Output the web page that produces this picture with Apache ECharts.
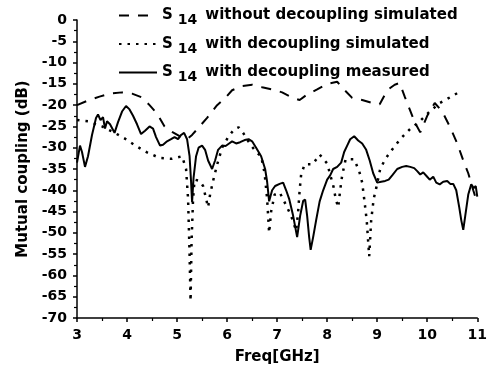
<!DOCTYPE html>
<html>
<head>
<meta charset="UTF-8">
<title>mutual coupling</title>
<script src="https://cdn.jsdelivr.net/npm/echarts@6/dist/echarts.min.js"></script>
<style>
    body { margin: 0; padding: 0; background: #fff; }
    #main { width: 490px; height: 372px; }
</style>
</head>
<body>
<div id="main"></div>
<script>
    // S14 without decoupling, simulated (dashed)
    const noDecFreq = [3.0, 3.2, 3.45, 3.7, 3.9, 4.1, 4.3, 4.45, 4.6, 4.75, 4.9, 5.05, 5.2, 5.3, 5.45, 5.6, 5.8, 5.95, 6.1, 6.3, 6.5, 6.7, 6.9, 7.1, 7.3, 7.45, 7.6, 7.8, 8.0, 8.2, 8.35, 8.5, 8.7, 8.9, 9.05, 9.2, 9.35, 9.45, 9.55, 9.65, 9.75, 9.86, 10.0, 10.15, 10.3, 10.45, 10.6, 10.72, 10.82, 10.92, 11.0];
    const noDecSim = [-20, -19, -18, -17.2, -17, -17.3, -18.2, -20, -22, -25, -26.3, -27.3, -28, -27, -25, -23, -20, -18.5, -16.5, -15.5, -15.2, -15.8, -16.3, -17, -18.2, -18.8, -17.5, -16.3, -15, -14.5, -16.5, -18.3, -18.8, -19.5, -19.8, -16.5, -15.2, -14.8, -18, -21, -24, -26.4, -22.5, -19.5, -21.5, -25, -29, -33, -36, -40, -43];

    // S14 with decoupling, simulated (dotted)
    const decSimFreq = [3.0, 3.22, 3.5, 3.75, 3.95, 4.18, 4.4, 4.65, 4.9, 5.1, 5.18, 5.22, 5.25, 5.27, 5.29, 5.32, 5.35, 5.45, 5.52, 5.58, 5.62, 5.66, 5.72, 5.8, 5.9, 6.03, 6.15, 6.23, 6.32, 6.45, 6.58, 6.68, 6.75, 6.8, 6.84, 6.88, 6.95, 7.05, 7.17, 7.28, 7.38, 7.42, 7.45, 7.48, 7.55, 7.71, 7.85, 8.0, 8.13, 8.17, 8.22, 8.26, 8.3, 8.37, 8.54, 8.64, 8.7, 8.74, 8.79, 8.84, 8.88, 8.93, 8.98, 9.06, 9.16, 9.3, 9.46, 9.65, 9.85, 10.05, 10.25, 10.45, 10.7];
    const decSim = [-23.5, -23.8, -25, -26.5, -27.8, -29.6, -31.1, -32.4, -32.6, -32, -35, -42, -55, -66, -52, -42, -37.5, -37.8, -39, -42, -44, -41, -37.8, -34, -30, -27.3, -25.6, -25.2, -26.5, -29, -31, -32, -36, -42, -50, -45, -41, -40.5, -43.3, -46, -49.5, -45, -40, -36.3, -33.9, -33.9, -31.6, -33.7, -39.3, -42, -44, -40, -36.5, -32.7, -32.7, -35.5, -38.2, -42, -47, -55.5, -47, -42, -39.5, -35, -32.7, -30.4, -28, -25.7, -23.8, -21.5, -19.5, -18.2, -16.5];

    // S14 with decoupling, measured (solid)
    const measFreq = [3.0, 3.06, 3.1, 3.16, 3.22, 3.3, 3.38, 3.42, 3.47, 3.52, 3.56, 3.6, 3.66, 3.75, 3.82, 3.9, 3.98, 4.05, 4.12, 4.2, 4.28, 4.36, 4.45, 4.52, 4.58, 4.66, 4.72, 4.8, 4.88, 4.95, 5.02, 5.08, 5.14, 5.2, 5.25, 5.28, 5.3, 5.33, 5.38, 5.43, 5.5, 5.56, 5.62, 5.7, 5.76, 5.82, 5.9, 5.97, 6.04, 6.1, 6.18, 6.26, 6.35, 6.43, 6.5, 6.58, 6.68, 6.76, 6.8, 6.84, 6.9, 6.96, 7.05, 7.12, 7.18, 7.24, 7.32, 7.4, 7.46, 7.52, 7.56, 7.6, 7.64, 7.67, 7.72, 7.78, 7.85, 7.92, 8.0, 8.06, 8.12, 8.2, 8.28, 8.34, 8.4, 8.46, 8.54, 8.62, 8.7, 8.78, 8.85, 8.92, 9.0, 9.08, 9.16, 9.23, 9.3, 9.4, 9.5, 9.58, 9.66, 9.74, 9.8, 9.86, 9.92, 9.99, 10.05, 10.12, 10.18, 10.25, 10.32, 10.4, 10.46, 10.52, 10.58, 10.64, 10.68, 10.72, 10.76, 10.82, 10.88, 10.93, 10.97, 11.0];
    const meas = [-33.5, -29.5, -31, -34.5, -32, -27, -23, -22.2, -23.5, -22.8, -25.5, -23.8, -24.5, -26.5, -24, -21.5, -20.2, -21, -22.5, -24.5, -26.8, -26, -25, -25.5, -27.5, -29.5, -29.3, -28.5, -28, -27.5, -28, -27, -26.5, -28, -32, -38, -42.8, -37, -32, -30, -29.5, -30.5, -33, -35, -33, -30.5, -29.5, -29.6, -29, -28.5, -29, -28.7, -28.2, -28, -28.5, -30, -32, -35, -38, -42.6, -40, -39, -38.5, -38.2, -40, -42, -46, -51, -46, -42.5, -42.2, -46, -51, -54, -51, -47, -42.6, -40, -37.5, -36.5, -35, -34.5, -33.5, -31, -29.5, -28, -27.3, -28.3, -29, -30.5, -33, -36, -38.2, -38, -37.8, -37.5, -36.5, -35, -34.5, -34.3, -34.5, -34.8, -35.5, -36.3, -35.8, -36.7, -37.5, -36.8, -38.2, -38.6, -38, -37.8, -38.5, -38.5, -40, -44, -47, -49.3, -46, -41, -38.6, -39.5, -39, -41.5];

    const seriesNames = ['S14 without decoupling simulated', 'S14 with decoupling simulated', 'S14 with decoupling measured'];

    const font = 'DejaVu Sans';
    const pairs = (xs, ys) => xs.map((x, i) => [x, ys[i]]);

    const chart = echarts.init(document.getElementById('main'), null, {renderer: 'canvas'});

    function lineSeries(name, data, type, width) {
        return {
            name: name,
            type: 'line',
            data: data,
            symbol: 'none',
            showSymbol: false,
            smooth: false,
            animation: false,
            lineStyle: {color: '#000', width: width, type: type, cap: 'butt'},
            itemStyle: {color: '#000'},
            z: 3
        };
    }

    const axisCommon = {
        axisLine: {show: true, onZero: false, lineStyle: {color: '#000', width: 1.5}},
        axisTick: {show: true, inside: false, length: 4, lineStyle: {color: '#000', width: 1.5}},
        minorTick: {show: true, splitNumber: 2, length: 3, lineStyle: {color: '#000', width: 1.2}},
        splitLine: {show: false},
        axisLabel: {color: '#000', fontFamily: font, fontWeight: 'bold', fontSize: 14, margin: 10},
        nameLocation: 'middle',
        nameTextStyle: {color: '#000', fontFamily: font, fontWeight: 'bold', fontSize: 15}
    };

    const option = {
        backgroundColor: '#fff',
        animation: false,
        grid: {left: 77, right: 9, top: 20, bottom: 54, containLabel: false},
        legend: {
            orient: 'vertical',
            left: 113,
            top: 3,
            itemWidth: 38,
            itemHeight: 14,
            itemGap: 9,
            data: seriesNames,
            itemStyle: {opacity: 0},
            formatter: function (name) {
                return '{n|S}{sub|14}{n|' + name.slice(4) + '}';
            },
            textStyle: {
                color: '#000',
                rich: {
                    n: {fontFamily: font, fontWeight: 'bold', fontSize: 15, color: '#000'},
                    sub: {fontFamily: font, fontWeight: 'bold', fontSize: 14, color: '#000', padding: [10, 8, 0, 5]}
                }
            }
        },
        xAxis: Object.assign({}, axisCommon, {
            type: 'value',
            min: 3,
            max: 11,
            interval: 1,
            name: 'Freq[GHz]',
            nameGap: 32
        }),
        yAxis: Object.assign({}, axisCommon, {
            type: 'value',
            min: -70,
            max: 0,
            interval: 5,
            name: 'Mutual coupling (dB)',
            nameGap: 46
        }),
        series: [
            lineSeries(seriesNames[0], pairs(noDecFreq, noDecSim), [10, 9], 2),
            lineSeries(seriesNames[1], pairs(decSimFreq, decSim), [2.5, 6], 2.5),
            lineSeries(seriesNames[2], pairs(measFreq, meas), 'solid', 2)
        ]
    };

    chart.setOption(option);
</script>
</body>
</html>
